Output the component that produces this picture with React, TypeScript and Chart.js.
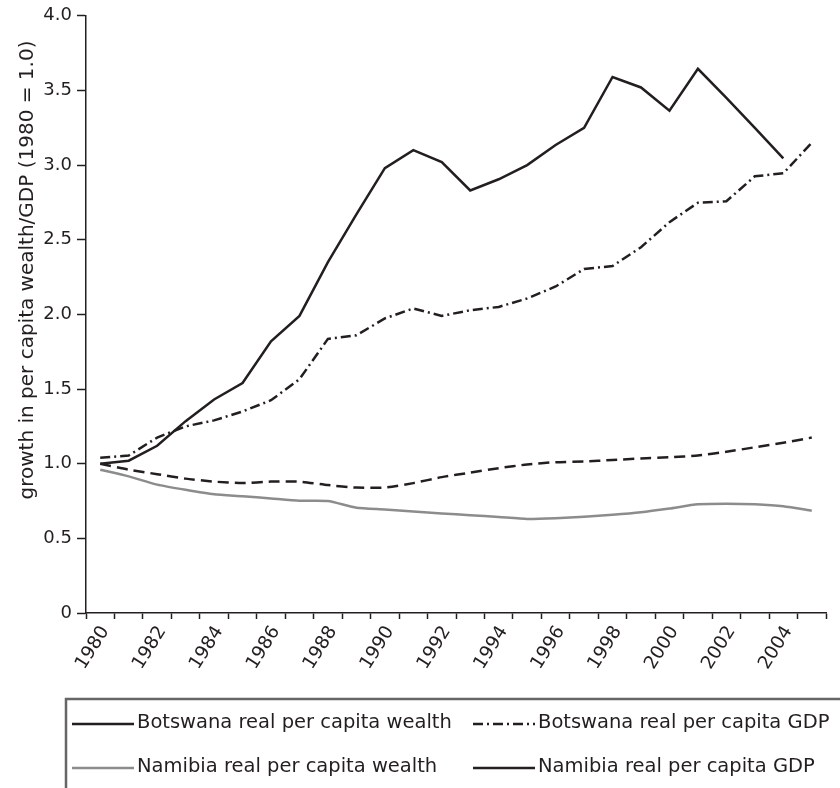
import React, { useEffect, useRef } from 'react';
import { Chart, registerables } from 'chart.js';

Chart.register(...registerables);

const years = [
  '1980', '1981', '1982', '1983', '1984', '1985', '1986', '1987', '1988', '1989',
  '1990', '1991', '1992', '1993', '1994', '1995', '1996', '1997', '1998', '1999',
  '2000', '2001', '2002', '2003', '2004', '2005',
];

const botswanaWealth = [
  1.0, 1.02, 1.12, 1.285, 1.43, 1.54, 1.82, 1.99, 2.35, 2.67,
  2.98, 3.1, 3.02, 2.83, 2.905, 3.0, 3.135, 3.25, 3.59, 3.52,
  3.365, 3.645, 3.45, 3.25, 3.045, null,
];

const botswanaGDP = [
  1.04, 1.055, 1.175, 1.25, 1.29, 1.35, 1.425, 1.566, 1.836, 1.86,
  1.973, 2.04, 1.99, 2.028, 2.05, 2.107, 2.187, 2.304, 2.324, 2.45,
  2.618, 2.748, 2.758, 2.925, 2.945, 3.15,
];

const namibiaWealth = [
  0.96, 0.915, 0.86, 0.825, 0.795, 0.782, 0.767, 0.752, 0.75, 0.705,
  0.694, 0.68, 0.667, 0.655, 0.643, 0.63, 0.635, 0.645, 0.658, 0.675,
  0.7, 0.728, 0.732, 0.728, 0.715, 0.685,
];

const namibiaGDP = [
  1.0, 0.96, 0.93, 0.9, 0.88, 0.87, 0.88, 0.88, 0.857, 0.84,
  0.84, 0.87, 0.91, 0.94, 0.97, 0.995, 1.01, 1.015, 1.025, 1.035,
  1.043, 1.055, 1.08, 1.11, 1.14, 1.175,
];

const seriesNames = [
  'Botswana real per capita wealth',
  'Botswana real per capita GDP',
  'Namibia real per capita wealth',
  'Namibia real per capita GDP',
];

const yTitle = 'growth in per capita wealth/GDP (1980 = 1.0)';

const INK = '#231f20';
const GREY = '#8c8c8c';
const FONT = '"DejaVu Sans", sans-serif';

// legend sample dash patterns as shown in the reference legend
const legendDashes: number[][] = [[], [10, 4, 2, 4], [], []];

const overlayPlugin = {
  id: 'overlay',
  afterDraw(chart: any) {
    const c: CanvasRenderingContext2D = chart.ctx;
    // y axis title
    c.save();
    c.translate(28, 270);
    c.rotate(-Math.PI / 2);
    c.font = '20px "DejaVu Sans", sans-serif';
    c.fillStyle = INK;
    c.textAlign = 'center';
    c.textBaseline = 'middle';
    c.fillText(yTitle, 0, 0);
    c.restore();

    // legend box
    c.save();
    c.strokeStyle = '#666666';
    c.lineWidth = 2.5;
    c.beginPath();
    c.moveTo(66, 788);
    c.lineTo(66, 699);
    c.lineTo(840, 699);
    c.stroke();

    const colX = [72, 473];
    const rowY = [724, 768];
    const sampleLen = 62;
    chart.data.datasets.forEach((ds: any, i: number) => {
      const x = colX[i % 2];
      const y = rowY[Math.floor(i / 2)];
      c.beginPath();
      c.strokeStyle = ds.borderColor;
      c.lineWidth = 2.5;
      c.setLineDash(legendDashes[i]);
      c.moveTo(x, y);
      c.lineTo(x + sampleLen, y);
      c.stroke();
      c.setLineDash([]);
      c.font = '19.5px "DejaVu Sans", sans-serif';
      c.fillStyle = INK;
      c.textAlign = 'left';
      c.textBaseline = 'middle';
      c.fillText(ds.label, x + sampleLen + 3, y - 1);
    });
    c.restore();
  },
};

export default function App() {
  const ref = useRef<HTMLCanvasElement>(null);

  useEffect(() => {
    const canvas = ref.current;
    if (!canvas) return;
    const chart = new Chart(canvas, {
      type: 'line',
      data: {
        labels: years,
        datasets: [
          {
            label: seriesNames[0],
            data: botswanaWealth,
            borderColor: INK,
            borderWidth: 2.5,
            pointRadius: 0,
            tension: 0,
            fill: false,
          },
          {
            label: seriesNames[1],
            data: botswanaGDP,
            borderColor: INK,
            borderWidth: 2.5,
            borderDash: [10, 4, 2, 4],
            pointRadius: 0,
            tension: 0,
            fill: false,
          },
          {
            label: seriesNames[2],
            data: namibiaWealth,
            borderColor: GREY,
            borderWidth: 2.5,
            pointRadius: 0,
            tension: 0.2,
            fill: false,
          },
          {
            label: seriesNames[3],
            data: namibiaGDP,
            borderColor: INK,
            borderWidth: 2.5,
            borderDash: [11, 6],
            pointRadius: 0,
            tension: 0.2,
            fill: false,
          },
        ],
      },
      options: {
        responsive: false,
        animation: false,
        events: [],
        layout: { padding: { top: 14, right: 14, bottom: 115, left: 0 } },
        plugins: {
          legend: { display: false },
          tooltip: { enabled: false },
          title: { display: false },
        },
        scales: {
          x: {
            type: 'category',
            offset: true,
            grid: {
              offset: true,
              drawOnChartArea: false,
              drawTicks: true,
              tickLength: 6,
              tickColor: INK,
              tickWidth: 1.5,
            },
            border: { display: true, color: INK, width: 1.5 },
            ticks: {
              autoSkip: false,
              minRotation: 58,
              maxRotation: 58,
              padding: 3,
              labelOffset: 5,
              color: INK,
              font: { family: FONT, size: 18.5 },
              callback: (_v: any, i: number) => (i % 2 === 0 ? years[i] : ''),
            },
            afterFit: (s: any) => {
              s.height = 60;
            },
          },
          y: {
            min: 0,
            max: 4,
            ticks: {
              stepSize: 0.5,
              padding: 5,
              color: INK,
              font: { family: FONT, size: 18 },
              callback: (v: any) => (Number(v) === 0 ? '0' : Number(v).toFixed(1)),
            },
            grid: {
              drawOnChartArea: false,
              drawTicks: true,
              tickLength: 9,
              tickColor: INK,
              tickWidth: 1.5,
            },
            border: { display: true, color: INK, width: 1.5 },
            afterFit: (s: any) => {
              s.width = 86;
            },
          },
        },
      },
      plugins: [overlayPlugin],
    });
    return () => chart.destroy();
  }, []);

  return (
    <div style={{ position: 'absolute', left: 0, top: 0, width: 840, height: 788, background: '#fff' }}>
      <canvas ref={ref} width={840} height={788} style={{ width: 840, height: 788, display: 'block' }} />
    </div>
  );
}
